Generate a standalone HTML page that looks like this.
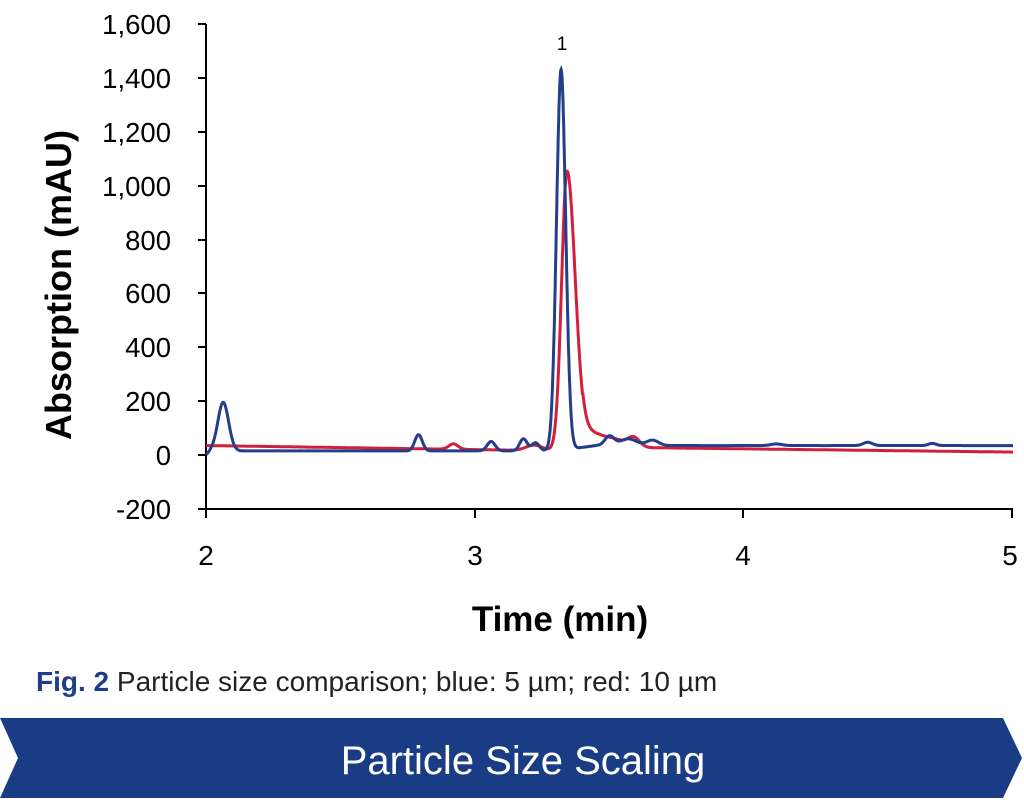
<!DOCTYPE html>
<html><head><meta charset="utf-8"><style>
body{margin:0;background:#fff;width:1024px;height:804px;overflow:hidden;font-family:"Liberation Sans",Arial,sans-serif}
</style></head><body>
<svg width="1024" height="804" xmlns="http://www.w3.org/2000/svg" style="position:absolute;left:0;top:0">
<g stroke="#000" stroke-width="2">
<line x1="206" y1="24" x2="206" y2="510"/>
<line x1="206" y1="509" x2="1013" y2="509"/>
<line x1="198" y1="24" x2="206" y2="24"/><line x1="198" y1="78" x2="206" y2="78"/>
<line x1="198" y1="132" x2="206" y2="132"/><line x1="198" y1="186" x2="206" y2="186"/>
<line x1="198" y1="240" x2="206" y2="240"/><line x1="198" y1="293" x2="206" y2="293"/>
<line x1="198" y1="347" x2="206" y2="347"/><line x1="198" y1="401" x2="206" y2="401"/>
<line x1="198" y1="455" x2="206" y2="455"/><line x1="198" y1="509" x2="206" y2="509"/>
<line x1="206" y1="509" x2="206" y2="518"/><line x1="475" y1="509" x2="475" y2="518"/>
<line x1="743" y1="509" x2="743" y2="518"/><line x1="1012" y1="509" x2="1012" y2="518"/>
</g>
<g font-size="27.5" text-anchor="end" fill="#000">
<text x="171" y="34">1,600</text><text x="171" y="88">1,400</text><text x="171" y="142">1,200</text>
<text x="171" y="196">1,000</text><text x="171" y="250">800</text><text x="171" y="303">600</text>
<text x="171" y="357">400</text><text x="171" y="411">200</text><text x="171" y="465">0</text>
<text x="171" y="519">-200</text>
</g>
<g font-size="28" text-anchor="middle">
<text x="206" y="565">2</text><text x="475" y="565">3</text><text x="743" y="565">4</text><text x="1010" y="565">5</text>
</g>
<text x="562" y="50" font-size="19" text-anchor="middle">1</text>
<text x="560" y="631" font-size="35" font-weight="bold" text-anchor="middle">Time (min)</text>
<text transform="translate(71,285) rotate(-90)" font-size="36" font-weight="bold" text-anchor="middle">Absorption (mAU)</text>
<path id="red" fill="none" stroke="#d21f3c" stroke-width="3"/>
<path id="blue" fill="none" stroke="#243f8a" stroke-width="3"/>
<polygon points="0,718 1003,718 1022,758 1003,798 0,798 18,758" fill="#1a3c85"/>
<text x="523" y="774" font-size="40" fill="#fff" text-anchor="middle">Particle Size Scaling</text>
<text x="36" y="691" font-size="28"><tspan fill="#1e3f87" font-weight="bold">Fig. 2</tspan><tspan fill="#222"> Particle size comparison; blue: 5 µm; red: 10 µm</tspan></text>
</svg>
<script>
function g(t,c,s,a){return a*Math.exp(-0.5*((t-c)/s)**2);}
function X(t){return 206+(t-2)*269;}function Y(v){return 455-v*0.27;}
function blue(t){
 var b=t<3.4?15:35;
 if(t>3.3&&t<3.45)b=15+(t-3.3)/0.15*20;
 var v=b+g(t,2.064,0.02,180)-(t<2.02?15*(2.02-t)/0.02:0)
 +g(t,2.79,0.014,60)+g(t,3.06,0.015,35)+g(t,3.18,0.014,45)+g(t,3.225,0.014,30)
 +g(t,3.32,0.017,1410)+g(t,3.5,0.017,35)+g(t,3.57,0.03,25)+g(t,3.66,0.022,20)
 +g(t,4.46,0.017,12)+g(t,4.7,0.014,8)+g(t,4.12,0.02,6);
 return v;}
function red(t){
 var b=35-(t-2)*15; if(t>3.4)b=30-(t-3.4)*12;
 var v=b+g(t,2.92,0.017,20)+g(t,3.22,0.03,20)
 +(t<3.342?g(t,3.342,0.02,1020):g(t,3.342,0.03,1020))+g(t,3.42,0.05,55)
 +g(t,3.59,0.022,35)+g(t,3.52,0.04,25);
 return v;}
function path(f){var d="";for(var t=2.0;t<=5.0001;t+=0.001){d+=(d?"L":"M")+X(t).toFixed(1)+","+Y(f(t)).toFixed(1);}return d;}
document.getElementById("red").setAttribute("d",path(red));
document.getElementById("blue").setAttribute("d",path(blue));
</script>
</body></html>
